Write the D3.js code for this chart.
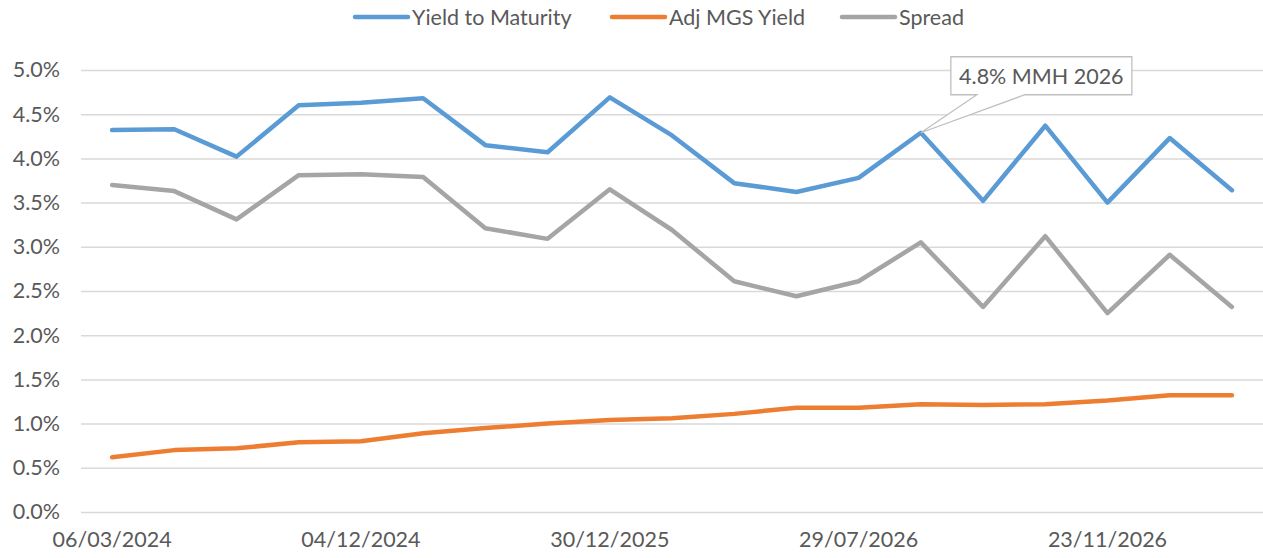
<!DOCTYPE html>
<html>
<head>
<meta charset="utf-8">
<script src="https://cdn.jsdelivr.net/npm/d3@7"></script>
<style>
    body { margin: 0; background: #fff; }
    #wrapper { width: 1263px; height: 558px; }
    text { font-family: Lato, "Open Sans", sans-serif; fill: #595959; }
</style>
</head>
<body>
<div id="wrapper"></div>
<script>
// data (values in %)
const yieldToMaturity = [4.32, 4.33, 4.02, 4.60, 4.63, 4.68, 4.15, 4.07, 4.69, 4.26,
    3.72, 3.62, 3.78, 4.29, 3.52, 4.37, 3.50, 4.23, 3.64]
const adjMgsYield = [0.62, 0.70, 0.72, 0.79, 0.80, 0.89, 0.95, 1.00, 1.04, 1.06,
    1.11, 1.18, 1.18, 1.22, 1.21, 1.22, 1.26, 1.32, 1.32]
const spread = [3.70, 3.63, 3.31, 3.81, 3.82, 3.79, 3.21, 3.09, 3.65, 3.19,
    2.61, 2.44, 2.61, 3.05, 2.32, 3.12, 2.25, 2.91, 2.32]

// only every 4th category carries a visible date label
const tickIndex = [0, 4, 8, 12, 16]
const tickLabels = ['06/03/2024', '04/12/2024', '30/12/2025', '29/07/2026', '23/11/2026']
const yTicks = [0, 0.5, 1.0, 1.5, 2.0, 2.5, 3.0, 3.5, 4.0, 4.5, 5.0]

const seriesNames = ['Yield to Maturity', 'Adj MGS Yield', 'Spread']
const seriesColors = ['#5b9bd5', '#ed7d31', '#a5a5a5']

const calloutIndex = 13
const calloutText = '4.8% MMH 2026'

function drawLineChart() {
    const categories = yieldToMaturity.map((d, i) => i)
    const series = [yieldToMaturity, adjMgsYield, spread]
    const fontSize = "21.5px"

    // chart dimensions
    let dimensions = {
        width: 1263,
        height: 558,
        margin: {
            top: 70,
            right: 0,
            bottom: 46,
            left: 81
        }
    }
    dimensions.boundedWidth = dimensions.width
        - dimensions.margin.left
        - dimensions.margin.right
    dimensions.boundedHeight = dimensions.height
        - dimensions.margin.top
        - dimensions.margin.bottom

    // draw canvas
    const wrapper = d3.select("#wrapper")
        .append("svg")
        .attr("width", dimensions.width)
        .attr("height", dimensions.height)

    const bounds = wrapper.append("g")
        .attr("transform", `translate(${dimensions.margin.left}, ${dimensions.margin.top})`)

    // scales
    const xScale = d3.scaleBand()
        .domain(categories)
        .range([0, dimensions.boundedWidth])
    const xPos = i => xScale(i) + xScale.bandwidth() / 2

    const yScale = d3.scaleLinear()
        .domain([0, 5])
        .range([dimensions.boundedHeight, 0])

    // gridlines + y labels
    const yAxis = bounds.append("g")
        .call(d3.axisLeft(yScale)
            .tickValues(yTicks)
            .tickSize(-dimensions.boundedWidth)
            .tickPadding(21)
            .tickFormat(d => d.toFixed(1) + '%'))
    yAxis.select(".domain").remove()
    yAxis.selectAll("line")
        .attr("stroke", "#d9d9d9")
        .attr("stroke-width", 1.5)
    yAxis.selectAll("text")
        .style("font-size", fontSize)
        .style("fill", "#595959")
        .style("font-family", "Lato, 'Open Sans', sans-serif")

    // x labels
    const xAxis = bounds.append("g")
        .attr("transform", `translate(0, ${dimensions.boundedHeight})`)
        .call(d3.axisBottom(xScale)
            .tickValues(tickIndex)
            .tickSize(0)
            .tickPadding(20)
            .tickFormat(d => tickLabels[tickIndex.indexOf(d)]))
    xAxis.select(".domain").remove()
    xAxis.selectAll("text")
        .style("font-size", fontSize)
        .style("fill", "#595959")
        .style("font-family", "Lato, 'Open Sans', sans-serif")

    // lines
    const lineGenerator = d3.line()
        .x((d, i) => xPos(i))
        .y(d => yScale(d))

    bounds.append("g")
        .selectAll("path")
        .data(series)
        .enter().append("path")
        .attr("d", lineGenerator)
        .attr("fill", "none")
        .attr("stroke", (d, i) => seriesColors[i])
        .attr("stroke-width", 4.5)
        .attr("stroke-linejoin", "round")
        .attr("stroke-linecap", "round")

    // callout on the Yield to Maturity point
    const px = xPos(calloutIndex)
    const py = yScale(yieldToMaturity[calloutIndex])
    const box = { x: px + 30, y: py - 76, w: 181, h: 38 }
    const callout = bounds.append("g")
    callout.append("path")
        .attr("d", `M${box.x},${box.y} H${box.x + box.w} V${box.y + box.h}
            H${px + 104} L${px},${py} L${px + 56},${box.y + box.h} H${box.x} Z`)
        .attr("fill", "#fff")
        .attr("stroke", "#bfbfbf")
        .attr("stroke-width", 1.3)
    callout.append("text")
        .attr("x", box.x + box.w / 2)
        .attr("y", box.y + 27)
        .attr("text-anchor", "middle")
        .style("font-size", fontSize)
        .text(calloutText)

    // legend
    const legendItems = [
        { x: 353, tx: 412 },
        { x: 610, tx: 669 },
        { x: 840, tx: 899 }
    ]
    const legend = wrapper.append("g")
    legendItems.forEach((item, i) => {
        legend.append("line")
            .attr("x1", item.x + 2).attr("x2", item.x + 55)
            .attr("y1", 17).attr("y2", 17)
            .attr("stroke", seriesColors[i])
            .attr("stroke-width", 4.5)
            .attr("stroke-linecap", "round")
        legend.append("text")
            .attr("x", item.tx)
            .attr("y", 25)
            .style("font-size", fontSize)
            .text(seriesNames[i])
    })
}

drawLineChart()
</script>
</body>
</html>
